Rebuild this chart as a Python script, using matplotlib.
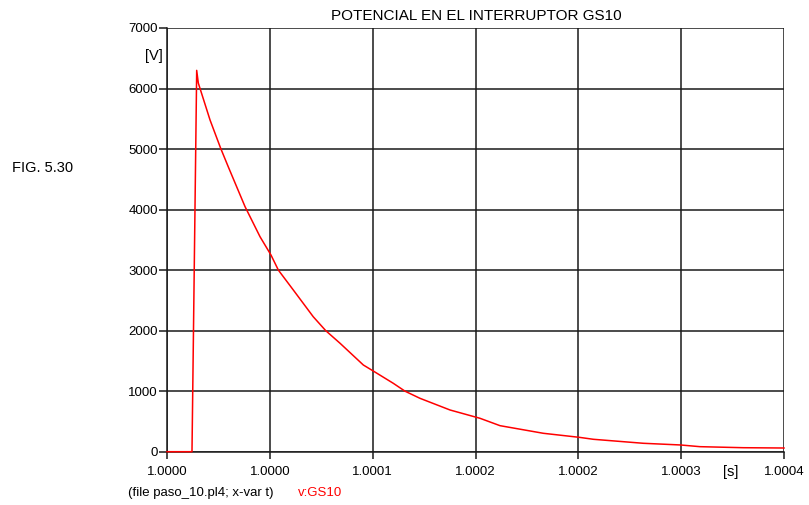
import matplotlib
matplotlib.use("Agg")
import matplotlib.pyplot as plt
import numpy as np

plt.rcParams['font.family'] = ['Liberation Sans', 'DejaVu Sans']

# time offset in microseconds after t = 1.0 s
t_us = [0.0, 16.2, 19.25, 20.3, 27.9, 34.8, 39.7, 50.6, 60.3, 67.4, 72.2, 81.9,
        94.8, 102.9, 112.2, 127.3, 133.4, 146.7, 154.3, 164.0, 183.5, 202.9,
        215.9, 244.0, 267.1, 276.4, 308.8, 333.0, 345.5, 373.6, 400.0]
v_gs10 = [0, 0, 6300, 6090, 5480, 5012, 4708, 4048, 3552, 3250, 3000, 2671,
          2230, 2000, 1791, 1432, 1338, 1130, 1000, 882, 689, 552,
          430, 304, 238, 205, 139, 111, 83, 66, 61]

x_tick_labels = ["1.0000", "1.0000", "1.0001", "1.0002", "1.0002", "1.0003", "1.0004"]
y_ticks = [0, 1000, 2000, 3000, 4000, 5000, 6000, 7000]

t = 1.0 + np.array(t_us) * 1e-6
x_ticks = 1.0 + np.linspace(0, 400, 7) * 1e-6

fig = plt.figure(figsize=(8.09, 5.05), dpi=100)
ax = fig.add_axes([167/809, 1 - 451.7/505, (784-167)/809, (451.7-28)/505])

ax.plot(t, v_gs10, color='#ff0000', lw=1.1, zorder=5, clip_on=False)

ax.set_xlim(x_ticks[0], x_ticks[-1])
ax.set_ylim(0, 7000)
ax.set_xticks(x_ticks)
ax.set_xticklabels(x_tick_labels)
ax.set_yticks(y_ticks)
ax.set_yticklabels([str(v) for v in y_ticks])
ax.grid(True, color='#1a1a1a', lw=1.1)
ax.set_axisbelow(True)
for s in ['top', 'right']:
    ax.spines[s].set_visible(False)
for s in ['left', 'bottom']:
    ax.spines[s].set_color('#1a1a1a')
    ax.spines[s].set_linewidth(1.1)
    ax.spines[s].set_zorder(2)
ax.tick_params(axis='both', direction='out', length=6, width=1.1, color='#1a1a1a',
               labelsize=9.5, pad=0.5)
ax.tick_params(axis='x', length=5, pad=5)

fig.text(476/809, 1 - 16.3/505, "POTENCIAL EN EL INTERRUPTOR GS10", ha='center', va='center', fontsize=11)
fig.text(153.5/809, 1 - 56/505, "[V]", ha='center', va='center', fontsize=10.5)
fig.text(731/809, 1 - 472/505, "[s]", ha='center', va='center', fontsize=10.5)
fig.text(12/809, 1 - 168.3/505, "FIG. 5.30", ha='left', va='center', fontsize=10.5)
fig.text(128/809, 1 - 493/505, "(file paso_10.pl4; x-var t)", ha='left', va='center', fontsize=9.5)
fig.text(298/809, 1 - 493/505, "v:GS10", ha='left', va='center', fontsize=9.5, color='#ff0000')

fig.savefig("out.png", dpi=100)
